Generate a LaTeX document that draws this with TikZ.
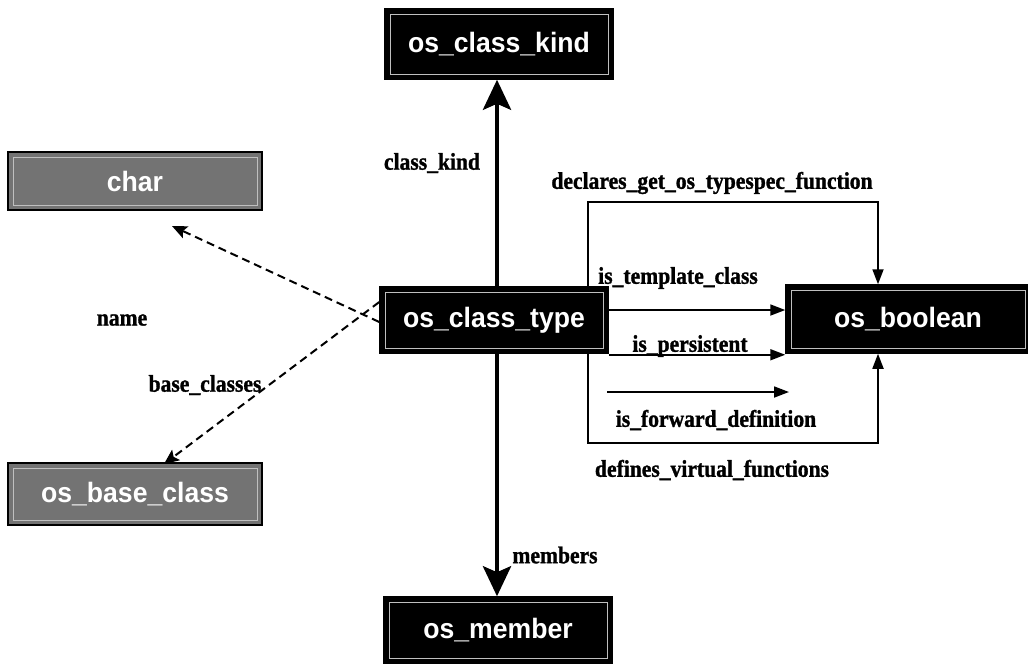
\documentclass[tikz,border=0pt]{standalone}
\usepackage{fontspec}
\setmainfont{Liberation Serif}
\newfontfamily\boxfont[FakeStretch=0.95]{Liberation Sans Bold}
\newfontfamily\lblfont[FakeBold=1.2,FakeStretch=0.9]{Liberation Serif Bold}
\usetikzlibrary{arrows.meta}
\begin{document}
\begin{tikzpicture}[x=1pt,y=-1pt,
  typebox/.style={draw=black,line width=1.5pt,fill=black,text=white,
    font=\boxfont\fontsize{28}{28}\selectfont,inner sep=0pt,
    path picture={\draw[white!75!black,line width=0.8pt]
      ([shift={(5pt,-5pt)}]path picture bounding box.north west) rectangle
      ([shift={(-5pt,5pt)}]path picture bounding box.south east);}},
  greybox/.style={typebox,fill=black!55},
  lbl/.style={font=\lblfont\fontsize{24}{24}\selectfont,inner sep=1pt},
  bigarrow/.style={line width=4.5pt,-{Stealth[length=30pt,width=28pt,inset=6pt]}},
  dasharrow/.style={line width=2pt,dash pattern=on 8pt off 5pt,
    -{Stealth[length=15pt,width=13pt,inset=3pt]}},
  linkarrow/.style={line width=1.8pt,-{Triangle[length=15pt,width=11pt]}}]
\useasboundingbox (0,0) rectangle (1028,670);

% boxes
\node[typebox,minimum width=228pt,minimum height=70pt] (kind)   at (499,44)  {os\_class\_kind};
\node[greybox,minimum width=254pt,minimum height=58pt] (char)   at (135,181) {char};
\node[typebox,minimum width=228pt,minimum height=66pt] (type)   at (494,320) {os\_class\_type};
\node[typebox,minimum width=244pt,minimum height=68pt] (bool)   at (908,319) {os\_boolean};
\node[greybox,minimum width=254pt,minimum height=62pt] (base)   at (135,494) {os\_base\_class};
\node[typebox,minimum width=228pt,minimum height=66pt] (member) at (498,630) {os\_member};

% thick vertical connectors
\draw[bigarrow] ([xshift=3pt]type.north) -- ([xshift=-2pt]kind.south);
\draw[bigarrow] ([xshift=3pt]type.south) -- ([xshift=-1pt]member.north);

% dashed connectors to the left
\draw[dasharrow] ([yshift=-2pt]type.west) -- (172,226);
\draw[dasharrow] ([yshift=18pt]type.west) -- (164,464);

% right-hand connectors to os_boolean
\coordinate (lx) at (588,0);
\coordinate (rx) at (878,0);
\draw[linkarrow] (type.north -| lx) -- (588,202) -- (878,202) -- (bool.north -| rx);
\draw[linkarrow] (type.south -| lx) -- (588,443) -- (878,443) -- (bool.south -| rx);
\draw[linkarrow] (type.east |- 0,310) -- (bool.west |- 0,310);
\draw[linkarrow] ([yshift=-1pt]type.south east) -- ([yshift=-1pt]bool.west |- type.south);
\coordinate (fwdA) at (607,392);
\coordinate (fwdB) at (789,392);
\draw[linkarrow] (fwdA) -- (fwdB);

% labels
\node[lbl] (lkind) at (432,163) {class\_kind};
\node[lbl] (ldecl) at (712,183) {declares\_get\_os\_typespec\_function};
\node[lbl] (lname) at (122,320) {name};
\node[lbl] (ltmpl) at (678,278) {is\_template\_class};
\node[lbl] (lpers) at (690,346) {is\_persistent};
\node[lbl] (lbase) at (205,385) {base\_classes};
\node[lbl] (lfwd)  at (716,420) {is\_forward\_definition};
\node[lbl] (lvirt) at (712,470) {defines\_virtual\_functions};
\node[lbl] (lmem)  at (555,555) {members};
\end{tikzpicture}
\end{document}
